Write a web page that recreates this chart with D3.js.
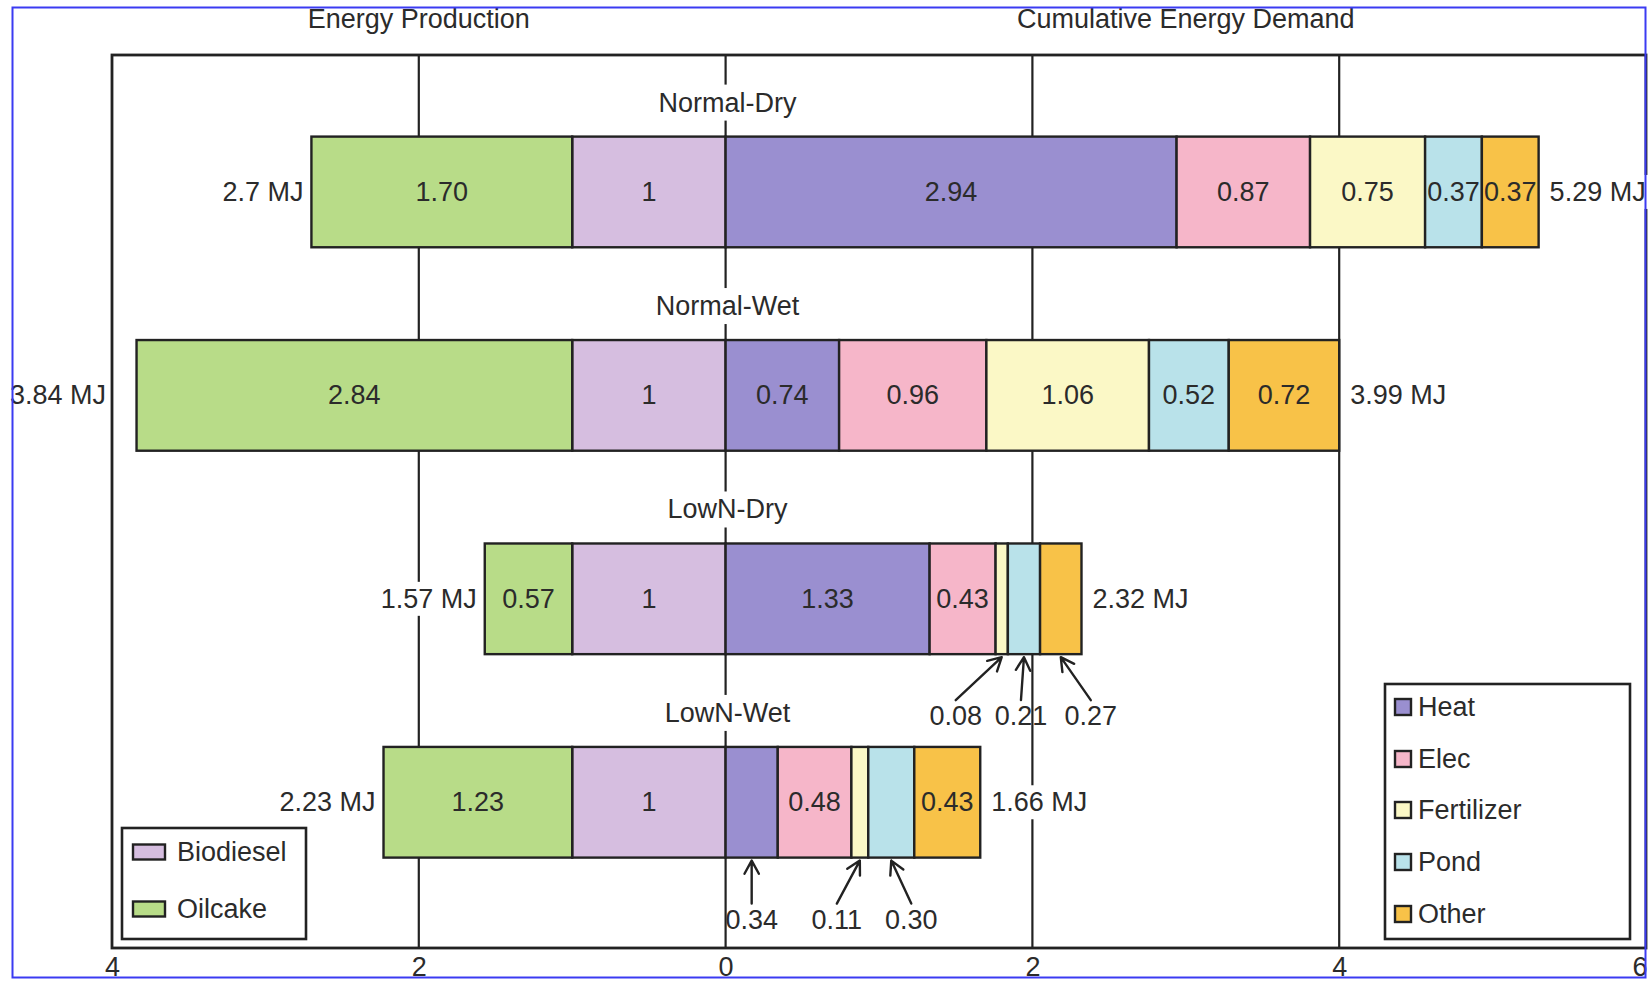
<!DOCTYPE html>
<html>
<head>
<meta charset="utf-8">
<script src="https://cdn.jsdelivr.net/npm/d3@7"></script>
<style>
  html, body { margin: 0; padding: 0; background: #fff; }
  svg { display: block; }
  text { font-family: "Liberation Sans", Arial, sans-serif; fill: #2b2b2b; }
</style>
</head>
<body>
<svg id="chart" width="1648" height="984"></svg>
<script>
// ---- data ----
const categories = ["Normal-Dry", "Normal-Wet", "LowN-Dry", "LowN-Wet"];

// energy production (MJ), stacked leftwards from zero
const biodiesel = [1, 1, 1, 1];
const oilcake   = [1.70, 2.84, 0.57, 1.23];

// cumulative energy demand (MJ), stacked rightwards from zero
const heat       = [2.94, 0.74, 1.33, 0.34];
const elec       = [0.87, 0.96, 0.43, 0.48];
const fertilizer = [0.75, 1.06, 0.08, 0.11];
const pond       = [0.37, 0.52, 0.21, 0.30];
const other      = [0.37, 0.72, 0.27, 0.43];

// stated totals
const productionTotal = [2.7, 3.84, 1.57, 2.23];
const demandTotal     = [5.29, 3.99, 2.32, 1.66];

const productionNames = ["Biodiesel", "Oilcake"];
const demandNames     = ["Heat", "Elec", "Fertilizer", "Pond", "Other"];
const axisTicks = [-4, -2, 0, 2, 4, 6];
const gridTicks = [-2, 0, 2, 4];

// ---- layout / style ----
const W = 1648, H = 984;
const frame = { left: 112, right: 1646, top: 55, bottom: 948 };
const FONT = 27;
const INK = "#222";

const color = d3.scaleOrdinal()
  .domain(["Biodiesel", "Oilcake", "Heat", "Elec", "Fertilizer", "Pond", "Other"])
  .range(["#d6bee0", "#b8dc88", "#9a8fd0", "#f6b6c9", "#fbf8c6", "#b9e2ea", "#f8c248"]);

// small segments whose value sits below the bar with an arrow
const callouts = [
  { cat: "LowN-Dry", series: "Fertilizer", dx: -46 },
  { cat: "LowN-Dry", series: "Pond", dx: -3 },
  { cat: "LowN-Dry", series: "Other", dx: 30 },
  { cat: "LowN-Wet", series: "Heat", dx: 0 },
  { cat: "LowN-Wet", series: "Fertilizer", dx: -23 },
  { cat: "LowN-Wet", series: "Pond", dx: 20 }
];

const svg = d3.select("#chart");
svg.append("rect").attr("width", W).attr("height", H).attr("fill", "#fff");

const x = d3.scaleLinear().domain([-4, 6]).range([frame.left, frame.right]);
const y = d3.scaleBand().domain(categories).range([136.6, 857.6])
  .paddingInner(0.456).paddingOuter(0);

// ---- segments ----
const seriesByName = { Biodiesel: biodiesel, Oilcake: oilcake, Heat: heat, Elec: elec,
  Fertilizer: fertilizer, Pond: pond, Other: other };

const segments = [];
categories.forEach((cat, i) => {
  let cum = 0;
  productionNames.forEach(name => {
    const v = seriesByName[name][i];
    segments.push({ cat, i, name, value: v, a: -(cum + v), b: -cum });
    cum += v;
  });
  cum = 0;
  demandNames.forEach(name => {
    const v = seriesByName[name][i];
    segments.push({ cat, i, name, value: v, a: cum, b: cum + v });
    cum += v;
  });
});

// ---- grid lines ----
svg.append("g").selectAll("line").data(gridTicks).join("line")
  .attr("x1", d => x(d)).attr("x2", d => x(d))
  .attr("y1", frame.top).attr("y2", frame.bottom)
  .attr("stroke", INK).attr("stroke-width", 2.2);

// ---- frame ----
svg.append("rect")
  .attr("x", frame.left).attr("y", frame.top)
  .attr("width", frame.right - frame.left).attr("height", frame.bottom - frame.top)
  .attr("fill", "none").attr("stroke", INK).attr("stroke-width", 2.8);

// ---- axis ----
const axis = svg.append("g")
  .attr("transform", `translate(0,${frame.bottom})`)
  .call(d3.axisBottom(x).tickValues(axisTicks).tickSize(0).tickFormat(d => Math.abs(d)));
axis.select(".domain").remove();
axis.selectAll("text")
  .attr("y", 28).attr("dy", null)
  .style("font-size", FONT + "px").style("font-family", "'Liberation Sans', Arial, sans-serif")
  .attr("fill", "#2b2b2b");
// the last label sits at the page edge: keep it inside
axis.selectAll(".tick").filter(d => d === axisTicks[axisTicks.length - 1])
  .select("text").attr("text-anchor", "end").attr("x", 1);

// ---- category labels (white backing hides the grid line) ----
categories.forEach(cat => {
  const g = svg.append("g");
  const t = g.append("text")
    .attr("x", x(0) + 2).attr("y", y(cat) - 34)
    .attr("text-anchor", "middle").attr("dominant-baseline", "central")
    .style("font-size", FONT + "px").text(cat);
  const bb = t.node().getBBox();
  g.insert("rect", "text")
    .attr("x", bb.x - 4).attr("y", bb.y - 3)
    .attr("width", bb.width + 8).attr("height", bb.height + 6)
    .attr("fill", "#fff");
});

// ---- bars ----
svg.append("g").selectAll("rect").data(segments).join("rect")
  .attr("x", d => x(d.a))
  .attr("width", d => x(d.b) - x(d.a))
  .attr("y", d => y(d.cat))
  .attr("height", y.bandwidth())
  .attr("fill", d => color(d.name))
  .attr("stroke", INK).attr("stroke-width", 2.4);

const fmt = d3.format(".2f");
const labelOf = d => d.name === "Biodiesel" ? String(d.value) : fmt(d.value);
const isCallout = d => callouts.some(c => c.cat === d.cat && c.series === d.name);

// values inside segments
svg.append("g").selectAll("text").data(segments.filter(d => !isCallout(d))).join("text")
  .attr("x", d => x((d.a + d.b) / 2))
  .attr("y", d => y(d.cat) + y.bandwidth() / 2)
  .attr("text-anchor", "middle").attr("dominant-baseline", "central")
  .style("font-size", FONT + "px")
  .text(labelOf);

// values below the bar with arrows
const arrows = svg.append("g");
callouts.forEach(c => {
  const d = segments.find(s => s.cat === c.cat && s.name === c.series);
  const cx = x((d.a + d.b) / 2);
  const bottom = y(d.cat) + y.bandwidth();
  const ly = bottom + 62;
  const lx = cx + c.dx;
  arrows.append("text")
    .attr("x", lx).attr("y", ly)
    .attr("text-anchor", "middle").attr("dominant-baseline", "central")
    .style("font-size", FONT + "px").text(labelOf(d));
  const x0 = lx, y0 = ly - 16, x1 = cx, y1 = bottom + 3;
  const ang = Math.atan2(y1 - y0, x1 - x0);
  const L = 15, spread = 0.5;
  const h1 = [x1 - L * Math.cos(ang - spread), y1 - L * Math.sin(ang - spread)];
  const h2 = [x1 - L * Math.cos(ang + spread), y1 - L * Math.sin(ang + spread)];
  arrows.append("path")
    .attr("d", `M${x0},${y0}L${x1},${y1}M${h1[0]},${h1[1]}L${x1},${y1}L${h2[0]},${h2[1]}`)
    .attr("fill", "none").attr("stroke", INK).attr("stroke-width", 2.4)
    .attr("stroke-linecap", "round").attr("stroke-linejoin", "round");
});

// ---- totals at both ends ----
categories.forEach((cat, i) => {
  const cy = y(cat) + y.bandwidth() / 2;
  const leftEdge = x(-d3.sum(productionNames, n => seriesByName[n][i]));
  const rightEdge = x(d3.sum(demandNames, n => seriesByName[n][i]));

  const gl = svg.append("g");
  const tl = gl.append("text")
    .attr("y", cy).attr("text-anchor", "end").attr("dominant-baseline", "central")
    .style("font-size", FONT + "px").text(productionTotal[i] + " MJ");
  const wl = tl.node().getComputedTextLength();
  let endX = leftEdge - 8;
  if (endX - wl < frame.left) endX = frame.left - 6;
  tl.attr("x", endX);
  const bl = tl.node().getBBox();
  gl.insert("rect", "text").attr("x", bl.x - 3).attr("y", bl.y - 2)
    .attr("width", bl.width + 6).attr("height", bl.height + 4).attr("fill", "#fff");

  const gr = svg.append("g");
  const tr = gr.append("text")
    .attr("x", rightEdge + 11).attr("y", cy)
    .attr("dominant-baseline", "central")
    .style("font-size", FONT + "px").text(demandTotal[i] + " MJ");
  const br = tr.node().getBBox();
  gr.insert("rect", "text").attr("x", br.x - 3).attr("y", br.y - 2)
    .attr("width", br.width + 6).attr("height", br.height + 4).attr("fill", "#fff");
});

// ---- section titles ----
svg.append("text").attr("x", x(-2)).attr("y", 19)
  .attr("text-anchor", "middle").attr("dominant-baseline", "central")
  .style("font-size", FONT + "px").text("Energy Production");
svg.append("text").attr("x", x(3)).attr("y", 19)
  .attr("text-anchor", "middle").attr("dominant-baseline", "central")
  .style("font-size", FONT + "px").text("Cumulative Energy Demand");

// ---- legends ----
function legend(names, box, sw, rowY) {
  const g = svg.append("g");
  g.append("rect").attr("x", box.x).attr("y", box.y)
    .attr("width", box.w).attr("height", box.h)
    .attr("fill", "#fff").attr("stroke", INK).attr("stroke-width", 2.6);
  names.forEach((n, k) => {
    const cy = rowY[k];
    g.append("rect").attr("x", sw.x).attr("y", cy - sw.h / 2)
      .attr("width", sw.w).attr("height", sw.h)
      .attr("fill", color(n)).attr("stroke", INK).attr("stroke-width", 2.4);
    g.append("text").attr("x", sw.tx).attr("y", cy)
      .attr("dominant-baseline", "central")
      .style("font-size", FONT + "px").text(n);
  });
}
legend(productionNames, { x: 122, y: 828, w: 184, h: 111 },
  { x: 133, w: 32, h: 15, tx: 177 }, [852, 909]);
legend(demandNames, { x: 1385, y: 684, w: 245, h: 255 },
  { x: 1395, w: 16, h: 16, tx: 1418 }, [707, 759, 810, 862, 914]);

// ---- outer border ----
svg.append("rect").attr("x", 12.5).attr("y", 7.5)
  .attr("width", 1633).attr("height", 970)
  .attr("fill", "none").attr("stroke", "#3b3bf2").attr("stroke-width", 2);
</script>
</body>
</html>
